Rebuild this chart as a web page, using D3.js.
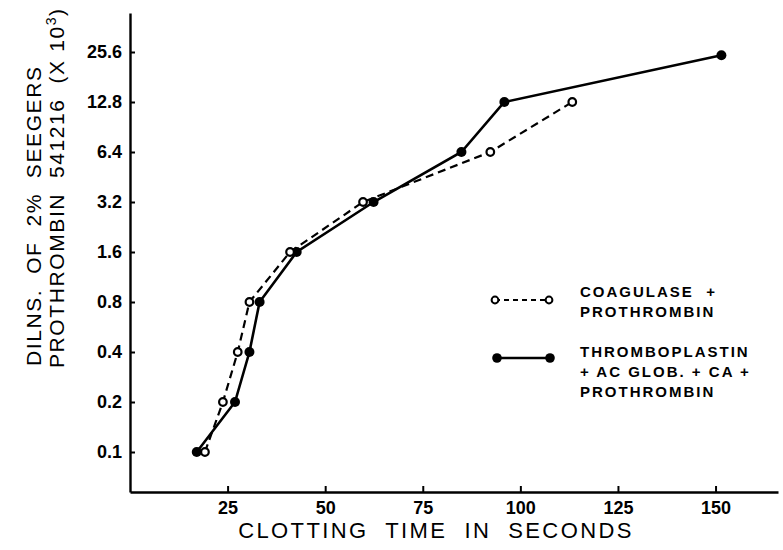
<!DOCTYPE html>
<html lang="en">
  <head>
    <meta charset="UTF-8" />
    <title>Clotting time</title>
    <style>
      body {
        margin: 0;
        background: #fff;
      }
      svg {
        display: block;
        font-family: 'Liberation Sans', Arial, sans-serif;
      }
      text {
        fill: #000;
        white-space: pre;
      }
      .tick > text {
        font-size: 18px;
        font-weight: bold;
      }
      .title {
        font-size: 22px;
        letter-spacing: 2.4px;
      }
      .ytitle {
        font-size: 21px;
        letter-spacing: 1.6px;
      }
      .legend-text {
        font-size: 15px;
        font-weight: bold;
        letter-spacing: 2px;
      }
    </style>
  </head>
  <body>
    <script src="https://cdn.jsdelivr.net/npm/d3@7"></script>
    <svg width="783" height="550"></svg>
    <script>
      // dilution levels (x 10^3)
      const dilutions = [0.1, 0.2, 0.4, 0.8, 1.6, 3.2, 6.4, 12.8, 25.6];
      const dilutionLabels = ['0.1', '0.2', '0.4', '0.8', '1.6', '3.2', '6.4', '12.8', '25.6'];
      const timeTicks = [25, 50, 75, 100, 125, 150];

      // coagulase + prothrombin (open circles, dashed)
      const coagTime = [19.2, 23.8, 27.6, 30.6, 41, 59.7, 92.3, 113.3];
      const coagDiln = [0.1, 0.2, 0.4, 0.8, 1.6, 3.2, 6.4, 12.8];

      // thromboplastin + ac glob. + ca + prothrombin (filled circles, solid)
      const thromboTime = [17.1, 26.9, 30.6, 33.2, 42.7, 62.4, 84.9, 95.9, 151.5];
      const thromboDiln = [0.1, 0.2, 0.4, 0.8, 1.6, 3.2, 6.4, 12.8, 24.5];

      const coag = coagTime.map((t, i) => ({ t: t, d: coagDiln[i] }));
      const thrombo = thromboTime.map((t, i) => ({ t: t, d: thromboDiln[i] }));

      const svg = d3.select('svg');

      const x = d3.scaleLinear().domain([0, 166]).range([130, 778]);
      const y = d3
        .scaleLog()
        .base(2)
        .domain([0.1 * Math.pow(2, -0.8), 25.6 * Math.pow(2, 0.78)])
        .range([492, 13]);

      const xAxis = svg
        .append('g')
        .attr('transform', 'translate(0,492)')
        .call(
          d3
            .axisBottom(x)
            .tickValues(timeTicks)
            .tickFormat(d3.format('d'))
            .tickSize(-6)
            .tickSizeOuter(0)
            .tickPadding(9),
        );

      const yAxis = svg
        .append('g')
        .attr('transform', 'translate(130,0)')
        .call(
          d3
            .axisLeft(y)
            .tickValues(dilutions)
            .tickFormat((d, i) => dilutionLabels[i])
            .tickSize(-5)
            .tickSizeOuter(0)
            .tickPadding(8),
        );

      [xAxis, yAxis].forEach((ax) => {
        ax.select('.domain').attr('stroke', '#000').attr('stroke-width', 2.4);
        ax.selectAll('.tick line').attr('stroke', '#000').attr('stroke-width', 2);
        ax.selectAll('.tick text').attr('font-family', null).attr('font-size', null);
      });

      // axis titles
      svg
        .append('text')
        .attr('class', 'title')
        .attr('x', 436)
        .attr('y', 538)
        .attr('text-anchor', 'middle')
        .text('CLOTTING  TIME  IN  SECONDS');

      const yTitle = svg.append('g').attr('transform', 'rotate(-90)');
      yTitle
        .append('text')
        .attr('class', 'ytitle')
        .attr('x', -366)
        .attr('y', 41)
        .text('DILNS.  OF  2%  SEEGERS');
      const line2 = yTitle
        .append('text')
        .attr('class', 'ytitle')
        .attr('x', -368)
        .attr('y', 64);
      line2.append('tspan').text('PROTHROMBIN  541216  (X 10');
      line2.append('tspan').attr('dy', -8).attr('font-size', 14).text('3');
      line2.append('tspan').attr('dy', 8).text(')');

      const line = d3
        .line()
        .x((d) => x(d.t))
        .y((d) => y(d.d));

      svg
        .append('path')
        .datum(coag)
        .attr('fill', 'none')
        .attr('stroke', '#000')
        .attr('stroke-width', 2.2)
        .attr('stroke-dasharray', '8,5')
        .attr('d', line);

      svg
        .append('path')
        .datum(thrombo)
        .attr('fill', 'none')
        .attr('stroke', '#000')
        .attr('stroke-width', 2.6)
        .attr('d', line);

      svg
        .selectAll('.thrombo-pt')
        .data(thrombo)
        .enter()
        .append('circle')
        .attr('class', 'thrombo-pt')
        .attr('cx', (d) => x(d.t))
        .attr('cy', (d) => y(d.d))
        .attr('r', 5)
        .attr('fill', '#000');

      svg
        .selectAll('.coag-pt')
        .data(coag)
        .enter()
        .append('circle')
        .attr('class', 'coag-pt')
        .attr('cx', (d) => x(d.t))
        .attr('cy', (d) => y(d.d))
        .attr('r', 3.8)
        .attr('fill', '#fff')
        .attr('stroke', '#000')
        .attr('stroke-width', 2.2);

      // legend
      const legend = svg.append('g');
      const leg1 = legend.append('g').attr('transform', 'translate(0,300)');
      leg1
        .append('line')
        .attr('x1', 495)
        .attr('x2', 549)
        .attr('stroke', '#000')
        .attr('stroke-width', 2)
        .attr('stroke-dasharray', '5,4');
      leg1
        .selectAll('circle')
        .data([495, 549])
        .enter()
        .append('circle')
        .attr('cx', (d) => d)
        .attr('r', 3.4)
        .attr('fill', '#fff')
        .attr('stroke', '#000')
        .attr('stroke-width', 2);
      leg1
        .append('text')
        .attr('class', 'legend-text')
        .attr('y', -3)
        .attr('dy', '0.35em')
        .selectAll('tspan')
        .data(['COAGULASE  +', 'PROTHROMBIN'])
        .enter()
        .append('tspan')
        .attr('x', 580)
        .attr('dy', (d, i) => (i ? 20 : 0))
        .text((d) => d);

      const leg2 = legend.append('g').attr('transform', 'translate(0,358)');
      leg2
        .append('line')
        .attr('x1', 497)
        .attr('x2', 550)
        .attr('stroke', '#000')
        .attr('stroke-width', 2.6);
      leg2
        .selectAll('circle')
        .data([497, 550])
        .enter()
        .append('circle')
        .attr('cx', (d) => d)
        .attr('r', 4.8)
        .attr('fill', '#000');
      leg2
        .append('text')
        .attr('class', 'legend-text')
        .attr('y', -1)
        .attr('dy', '0.35em')
        .selectAll('tspan')
        .data(['THROMBOPLASTIN', '+ AC GLOB. + CA +', 'PROTHROMBIN'])
        .enter()
        .append('tspan')
        .attr('x', 580)
        .attr('dy', (d, i) => (i ? 20 : 0))
        .text((d) => d);
    </script>
  </body>
</html>
